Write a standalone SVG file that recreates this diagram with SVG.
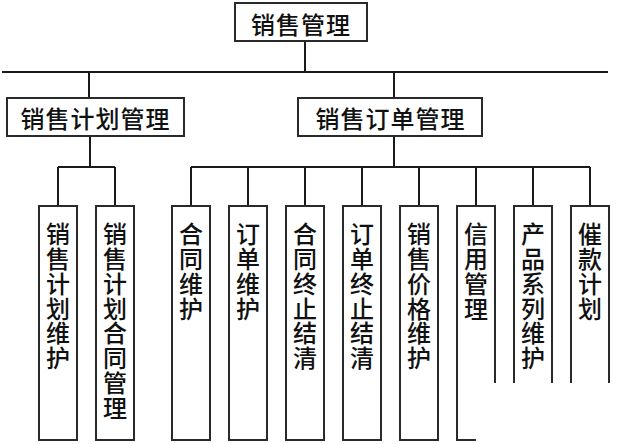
<svg xmlns="http://www.w3.org/2000/svg" width="617" height="444" viewBox="0 0 617 444">
<style>
.box{fill:#fff;stroke:#2a2a2a;stroke-width:2}
.open{fill:none;stroke:#2a2a2a;stroke-width:2}
.ln{fill:none;stroke:#1a1a1a;stroke-width:2}
.t{font-family:"Noto Sans CJK SC","Noto Sans CJK TC",sans-serif;font-size:24px;font-weight:500;fill:#111}
.h{text-anchor:middle;dominant-baseline:central;letter-spacing:1px}
.v{writing-mode:vertical-rl;text-anchor:start;letter-spacing:0.8px}
</style>
<rect width="617" height="444" fill="#fff"/>
<g id="connectors">
<path class="ln" d="M305,41V72M2,72H608M89,72V98M394,72V98"/>
<path class="ln" d="M90,136V167M58,167H115M58,167V206M115,167V206"/>
<path class="ln" d="M394,136V167M191,167H590M191,167V206M248,167V206M305,167V206M362,167V206M419,167V206M476,167V206M533,167V206M590,167V206"/>
</g>
<g id="n_root"><rect class="box" x="235" y="3" width="132" height="38"/><text class="t h" x="301" y="23">销售管理</text></g>
<g id="n_plan"><rect class="box" x="7" y="98" width="177" height="38"/><text class="t h" x="95.5" y="117">销售计划管理</text></g>
<g id="n_order"><rect class="box" x="298" y="98" width="184" height="38"/><text class="t h" x="390.5" y="117">销售订单管理</text></g>
<g id="n_p1"><rect class="box" x="39" y="206" width="38" height="234"/><text class="t v" x="58" y="222">销售计划维护</text></g>
<g id="n_p2"><rect class="box" x="96" y="206" width="38" height="234"/><text class="t v" x="115" y="222">销售计划合同管理</text></g>
<g id="n_o1"><rect class="box" x="172" y="206" width="38" height="234"/><text class="t v" x="191" y="222">合同维护</text></g>
<g id="n_o2"><rect class="box" x="229" y="206" width="38" height="234"/><text class="t v" x="248" y="222">订单维护</text></g>
<g id="n_o3"><rect class="box" x="286" y="206" width="38" height="234"/><text class="t v" x="305" y="222">合同终止结清</text></g>
<g id="n_o4"><rect class="box" x="343" y="206" width="38" height="234"/><text class="t v" x="362" y="222">订单终止结清</text></g>
<g id="n_o5"><rect class="box" x="400" y="206" width="38" height="234"/><text class="t v" x="419" y="222">销售价格维护</text></g>
<g id="n_o6"><path class="open" d="M495,383V206H457V440H476"/><text class="t v" x="476" y="222">信用管理</text></g>
<g id="n_o7"><path class="open" d="M514,383V206H552V383"/><text class="t v" x="533" y="222">产品系列维护</text></g>
<g id="n_o8"><path class="open" d="M571,383V206H609V383"/><text class="t v" x="590" y="222">催款计划</text></g>
</svg>
